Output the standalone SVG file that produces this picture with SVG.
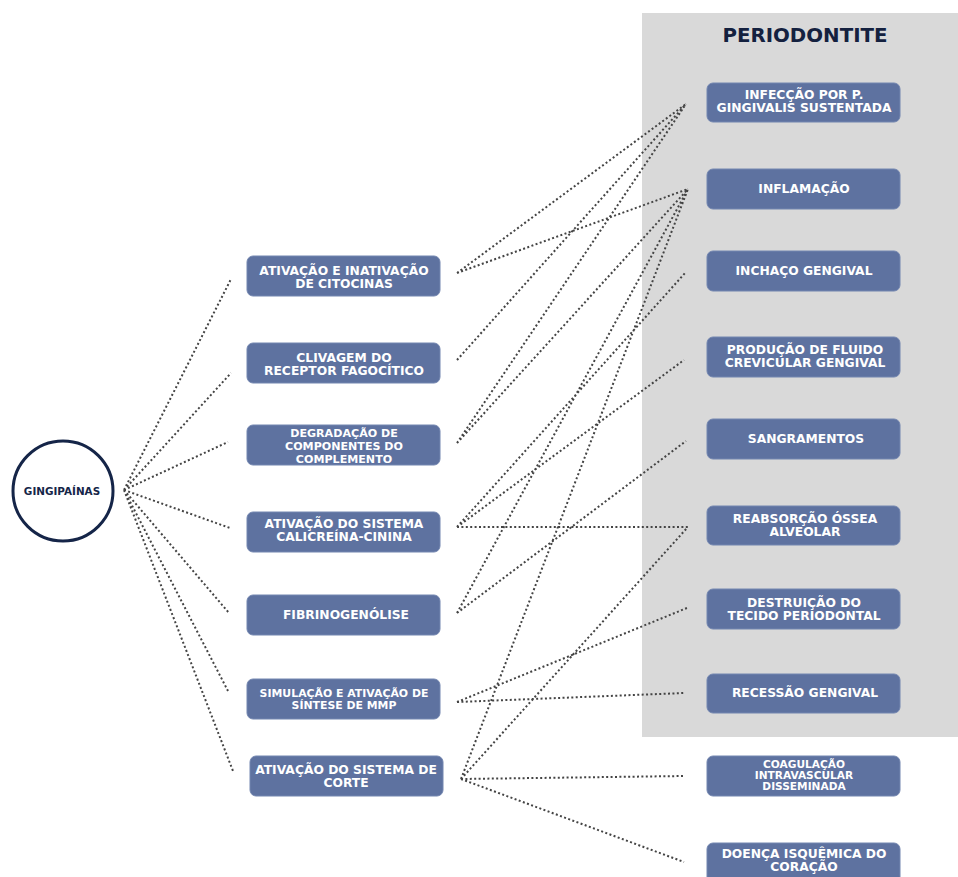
<svg xmlns="http://www.w3.org/2000/svg" width="958" height="877" viewBox="0 0 958 877">
<style>
.n{fill:#5e72a0;stroke:#7386b0;stroke-width:1}
.t{fill:#fff;font-family:"DejaVu Sans","Open Sans",sans-serif;font-weight:bold;font-size:12.3px;text-anchor:middle}
.s{font-size:11.1px}
.m{font-size:10.9px}
.xs{font-size:10.6px}
.c{fill:none;stroke:#444;stroke-width:2;stroke-dasharray:2 2.4}
</style>
<rect width="958" height="877" fill="#fff"/>
<rect x="642" y="13" width="316" height="724" fill="#d9d9d9"/>
<text x="805" y="42" style="font-family:'DejaVu Sans','Open Sans',sans-serif;font-weight:bold;font-size:19.8px;fill:#14213f;text-anchor:middle">PERIODONTITE</text>
<g id="connectors">
<path class="c" d="M124 490L231 279M124 490L231 373M124 490L228 442M124 490L230 528M124 490L229 613M124 490L228 691M124 490L233 771"/>
<path class="c" d="M457 273L686 104M457 273L688 189M457 360L686 104M457 443L686 104M457 443L688 189M457 527L686 272M457 527L684 360M457 527L688 527M457 613L688 189M457 613L686 441M457 702L687 608M457 702L684 693M461 779L688 189M461 779L687 528M461 779L684 776M461 779L684 862"/>
</g>
<g id="gingipainas">
<circle cx="63" cy="491" r="50" fill="#fff" stroke="#152548" stroke-width="3"/>
<text x="62" y="494.5" style="font-family:'DejaVu Sans','Open Sans',sans-serif;font-weight:bold;font-size:10.4px;fill:#152548;text-anchor:middle">GINGIPAÍNAS</text>
</g>
<g id="citocinas"><rect class="n" x="247" y="256" width="193" height="40" rx="6"/><text class="t" x="344" y="275">ATIVAÇÃO E INATIVAÇÃO</text><text class="t" x="344" y="288">DE CITOCINAS</text></g>
<g id="clivagem"><rect class="n" x="247" y="343" width="193" height="40" rx="6"/><text class="t" x="344" y="362">CLIVAGEM DO</text><text class="t" x="344" y="375">RECEPTOR FAGOCÍTICO</text></g>
<g id="degradacao"><rect class="n" x="247" y="425" width="193" height="40" rx="6"/><text class="t s" x="344" y="437.3">DEGRADAÇÃO DE</text><text class="t s" x="344" y="449.9">COMPONENTES DO</text><text class="t s" x="344" y="462.5">COMPLEMENTO</text></g>
<g id="calicreina"><rect class="n" x="247" y="512" width="193" height="40" rx="6"/><text class="t" x="344" y="528">ATIVAÇÃO DO SISTEMA</text><text class="t" x="344" y="541">CALICREÍNA-CININA</text></g>
<g id="fibrinogenolise"><rect class="n" x="247" y="595" width="193" height="40" rx="6"/><text class="t" x="346" y="619">FIBRINOGENÓLISE</text></g>
<g id="mmp"><rect class="n" x="247" y="679" width="193" height="40" rx="6"/><text class="t m" x="344" y="697">SIMULAÇÃO E ATIVAÇÃO DE</text><text class="t m" x="344" y="709">SÍNTESE DE MMP</text></g>
<g id="corte"><rect class="n" x="250" y="756" width="193" height="40" rx="6"/><text class="t" x="346" y="774">ATIVAÇÃO DO SISTEMA DE</text><text class="t" x="346" y="787">CORTE</text></g>
<g id="infeccao"><rect class="n" x="707" y="83" width="193" height="39" rx="6"/><text class="t" x="804" y="99">INFECÇÃO POR P.</text><text class="t" x="804" y="112">GINGIVALIS SUSTENTADA</text></g>
<g id="inflamacao"><rect class="n" x="707" y="169" width="193" height="40" rx="6"/><text class="t" x="804" y="193">INFLAMAÇÃO</text></g>
<g id="inchaco"><rect class="n" x="707" y="251" width="193" height="40" rx="6"/><text class="t" x="804" y="275">INCHAÇO GENGIVAL</text></g>
<g id="producao"><rect class="n" x="707" y="337" width="193" height="40" rx="6"/><text class="t" x="805" y="354">PRODUÇÃO DE FLUIDO</text><text class="t" x="805" y="367">CREVICULAR GENGIVAL</text></g>
<g id="sangramentos"><rect class="n" x="707" y="419" width="193" height="40" rx="6"/><text class="t" x="806" y="443">SANGRAMENTOS</text></g>
<g id="reabsorcao"><rect class="n" x="707" y="506" width="193" height="39" rx="6"/><text class="t" x="805" y="523">REABSORÇÃO ÓSSEA</text><text class="t" x="805" y="536">ALVEOLAR</text></g>
<g id="destruicao"><rect class="n" x="707" y="589" width="193" height="40" rx="6"/><text class="t" x="804" y="607">DESTRUIÇÃO DO</text><text class="t" x="804" y="620">TECIDO PERIODONTAL</text></g>
<g id="recessao"><rect class="n" x="707" y="674" width="193" height="39" rx="6"/><text class="t" x="805" y="697">RECESSÃO GENGIVAL</text></g>
<g id="coagulacao"><rect class="n" x="707" y="756" width="193" height="40" rx="6"/><text class="t xs" x="804" y="768">COAGULAÇÃO</text><text class="t xs" x="804" y="779">INTRAVASCULAR</text><text class="t xs" x="804" y="790">DISSEMINADA</text></g>
<g id="doenca"><rect class="n" x="707" y="843" width="193" height="44" rx="6"/><text class="t" x="804" y="858">DOENÇA ISQUÊMICA DO</text><text class="t" x="804" y="871">CORAÇÃO</text></g>
</svg>
